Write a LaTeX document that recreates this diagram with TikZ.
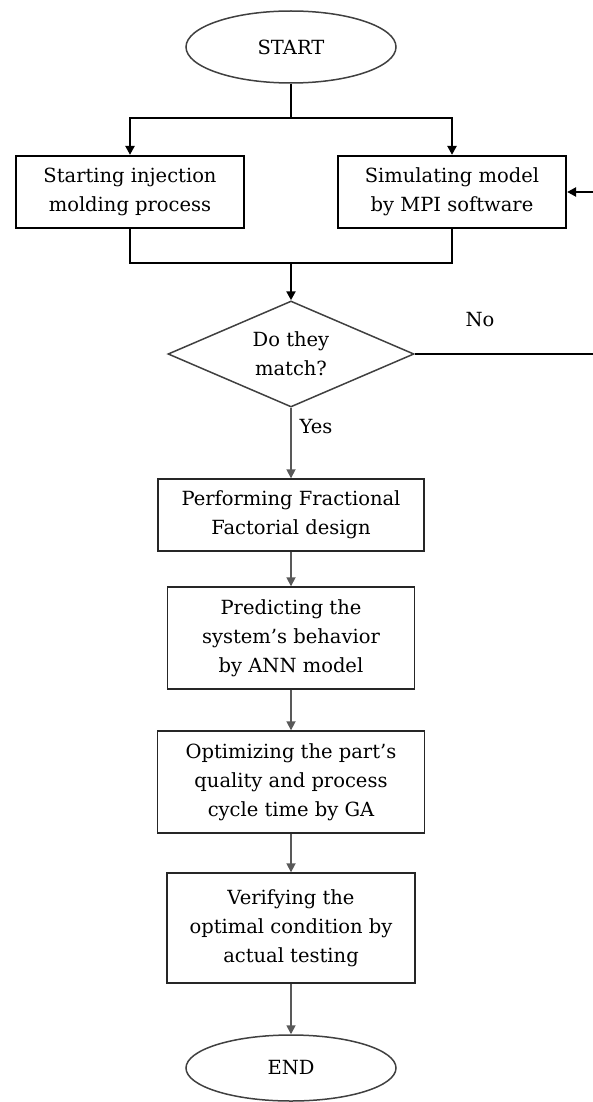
\documentclass[tikz,border=0pt]{standalone}
\usepackage{fontspec}
\setmainfont{DejaVu Serif}
\usetikzlibrary{shapes.geometric,arrows.meta}
\begin{document}
\begin{tikzpicture}[x=1pt,y=-1pt,
  every node/.style={font=\fontsize{19.5}{29}\selectfont, align=center},
  term/.style={ellipse, draw=black!75, line width=1.5pt, minimum width=210, minimum height=72, inner sep=0},
  topbox/.style={rectangle, draw=black, line width=2.2pt, minimum width=228, minimum height=72, inner sep=0},
  procbox/.style={rectangle, draw=black!85, line width=1.4pt, inner sep=0},
  heavy/.style={draw=black, line width=2.8pt},
  light/.style={draw=black!65, line width=1.7pt},
  tip/.style={-{Triangle[length=9pt,width=9pt]}}
]
\useasboundingbox (0,0) rectangle (592,1102);

% terminals
\node[term] (start) at (291,47) {START};
\node[term, minimum height=66] (end) at (291,1068) {END};

% first stage: real process and simulation run side by side
\node[topbox] (inj) at (130,192) {Starting injection\\molding process};
\node[topbox] (sim) at (452,192) {Simulating model\\by MPI software};

% comparison
\node[diamond, draw=black!75, line width=1.5pt, minimum width=246, minimum height=106, inner sep=0] (dia) at (291,354) {};
\node at (dia) {Do they\\match?};

% sequential steps
\node[procbox, minimum width=266, minimum height=72] (ffd) at (291,515) {Performing Fractional\\Factorial design};
\node[procbox, minimum width=247, minimum height=102] (ann) at (291,638) {Predicting the\\system's behavior\\by ANN model};
\node[procbox, minimum width=267, minimum height=102] (ga) at (291,782) {Optimizing the part's\\quality and process\\cycle time by GA};
\node[procbox, minimum width=248, minimum height=110] (ver) at (291,928) {Verifying the\\optimal condition by\\actual testing};

% split and merge points
\coordinate (split) at (291,118);
\coordinate (merge) at (291,263);
\coordinate (loop) at (602,354);

\draw[heavy] (start.south) -- (split);
\draw[heavy, tip] (split) -| (inj.north);
\draw[heavy, tip] (split) -| (sim.north);
\draw[heavy] (inj.south) |- (merge);
\draw[heavy] (sim.south) |- (merge);
\draw[heavy, tip] (merge) -- (dia.north);

% feedback when results disagree
\draw[heavy, tip] (dia.east) -- (loop) |- (sim.east);
\node at (480,320) {No};

% main flow
\draw[light, tip] (dia.south) -- (ffd.north);
\node at (316,427) {Yes};
\draw[light, tip] (ffd.south) -- (ann.north);
\draw[light, tip] (ann.south) -- (ga.north);
\draw[light, tip] (ga.south) -- (ver.north);
\draw[light, tip] (ver.south) -- (end.north);
\end{tikzpicture}
\end{document}
